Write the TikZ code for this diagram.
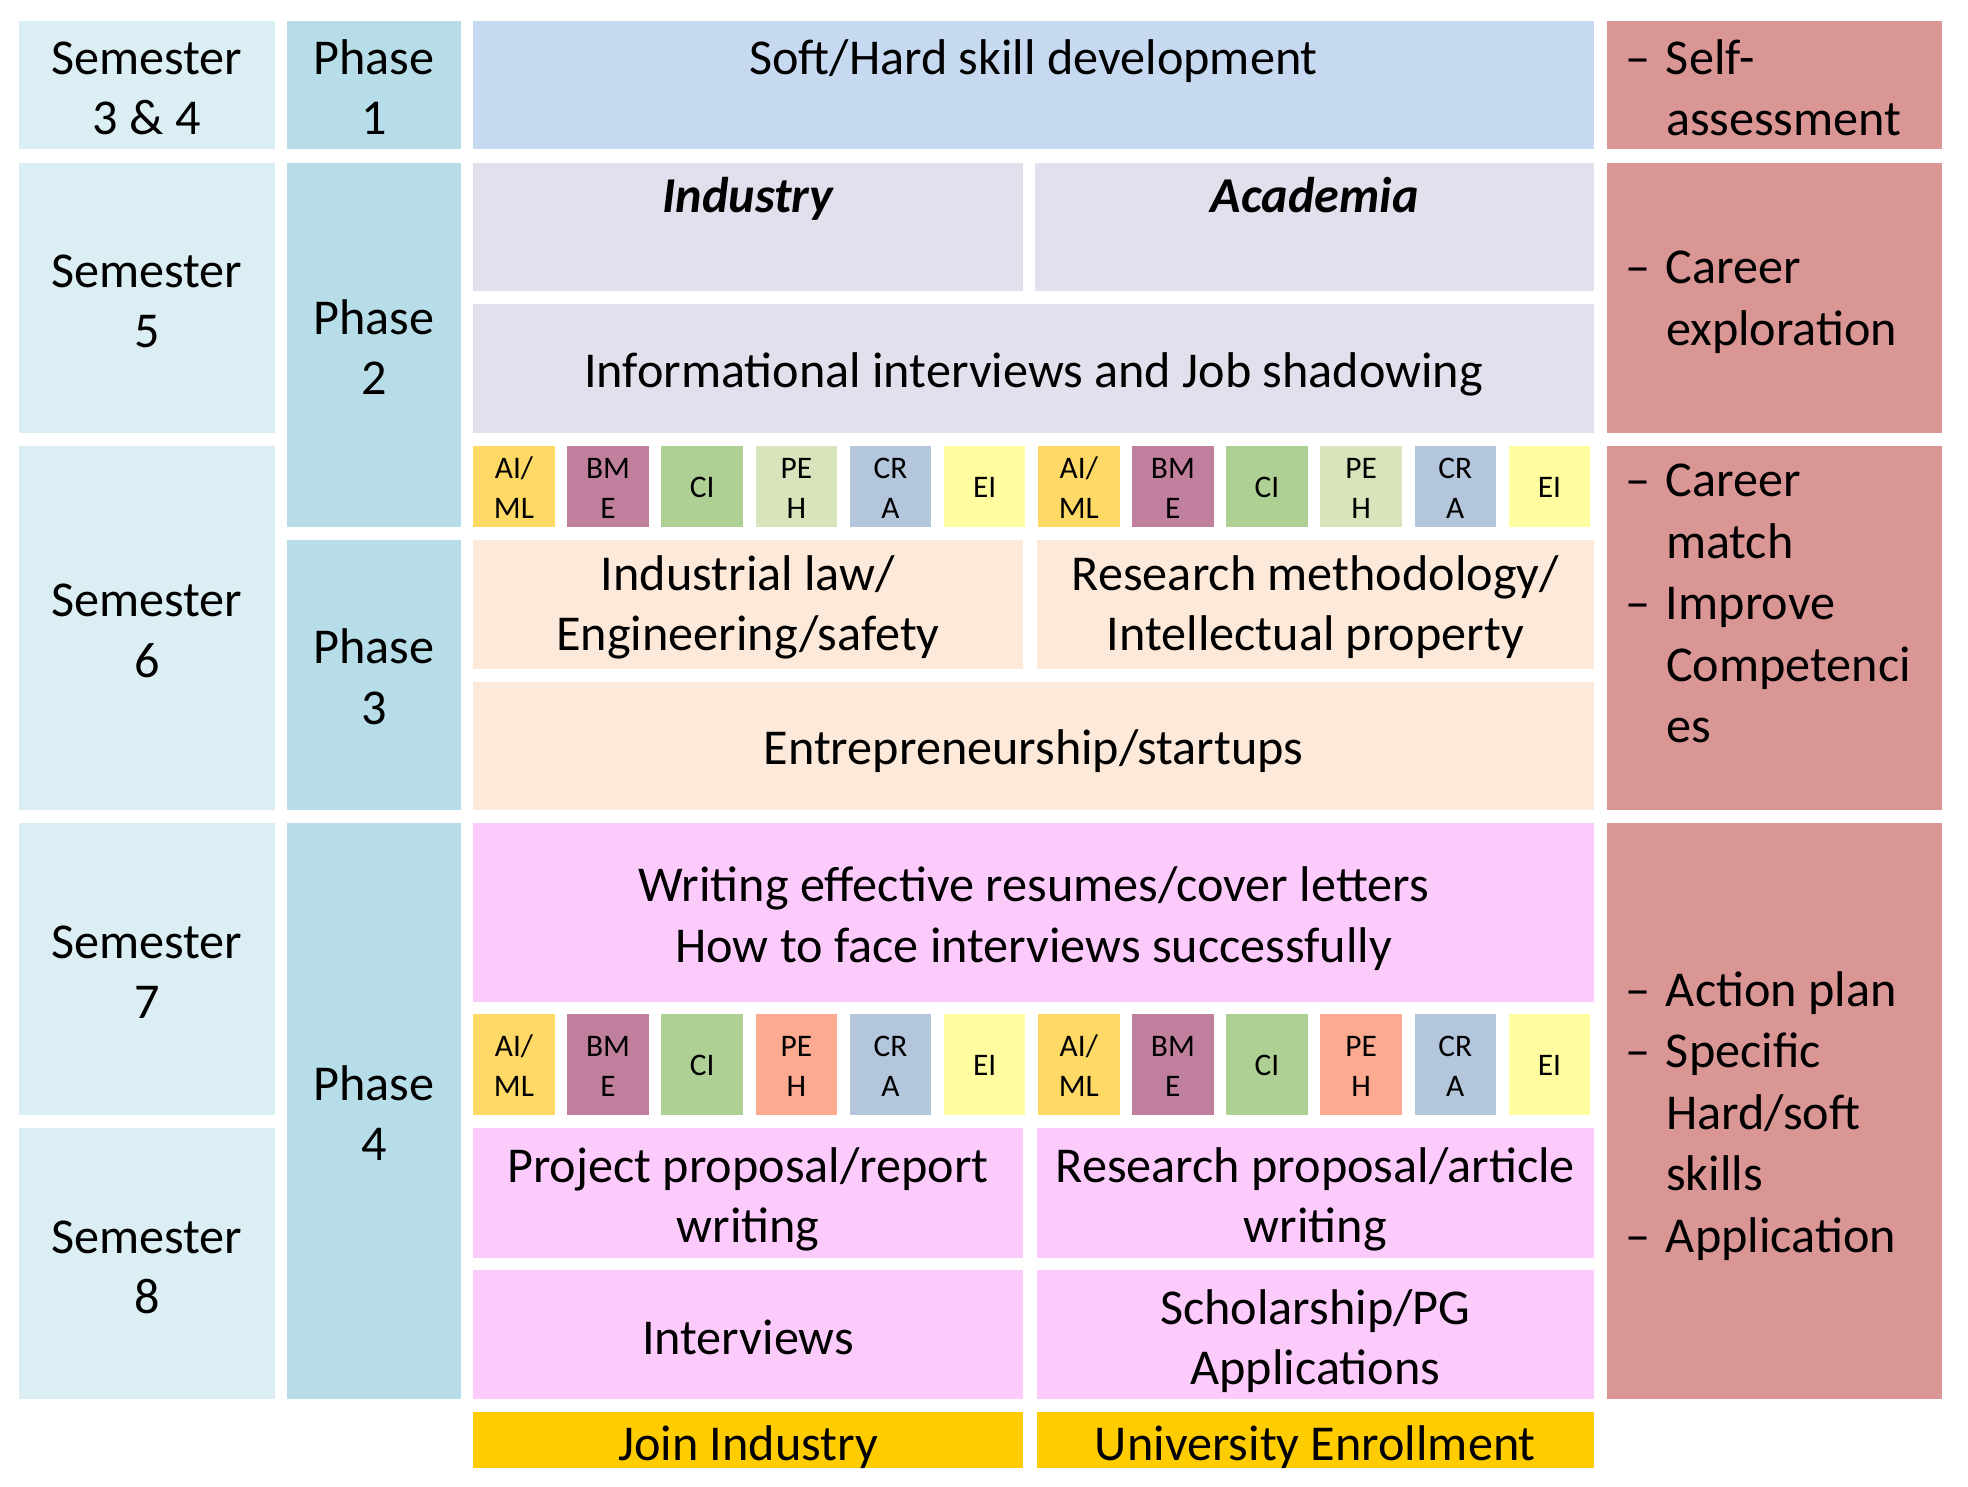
\documentclass[tikz,border=0pt]{standalone}
\usepackage{fontspec}
\setmainfont{Carlito}
\usetikzlibrary{positioning}

\definecolor{semblue}{HTML}{DAEEF3}
\definecolor{phaseblue}{HTML}{B7DEE8}
\definecolor{softblue}{HTML}{C6D9F1}
\definecolor{lavender}{HTML}{E4DFEC}
\definecolor{peach}{HTML}{FDE9D9}
\definecolor{pinkish}{HTML}{FCCBFC}
\definecolor{rose}{HTML}{DA9694}
\definecolor{gold}{HTML}{FFCC00}
\definecolor{aiml}{HTML}{FFD966}
\definecolor{bme}{HTML}{C17F9E}
\definecolor{ci}{HTML}{AFD095}
\definecolor{pehlight}{HTML}{D8E4BC}
\definecolor{pehsalmon}{HTML}{FCAA90}
\definecolor{cra}{HTML}{B4C6DC}
\definecolor{ei}{HTML}{FFFD9F}

\newcommand{\ditem}[1]{\makebox[16pt][l]{–}#1}
\newcommand{\dcont}[1]{\hspace*{16pt}#1}

\tikzset{
    cell/.style = {rectangle, inner sep=0pt, align=center, font=\fontsize{20}{24}\selectfont,
        text height=19pt, text depth=3.5pt},
    twoline/.style = {text height=43pt},
    semester/.style = {cell, twoline, fill=semblue, minimum width=102pt},
    phase/.style = {cell, twoline, fill=phaseblue, minimum width=69pt},
    wide/.style = {cell, minimum width=446.5pt},
    half/.style = {cell, minimum width=219pt},
    halfr/.style = {cell, minimum width=222pt},
    goal/.style = {cell, fill=rose, minimum width=133.5pt},
    goaltext/.style = {inner sep=0pt, align=left, anchor=west, font=\fontsize{20}{24.5}\selectfont},
    basetext/.style = {cell, anchor=base},
    tag/.style = {rectangle, inner sep=0pt, align=center, minimum width=32.5pt, font=\fontsize{12.5}{16}\selectfont,
        text height=10pt, text depth=1.5pt},
    tagtwo/.style = {text height=27.5pt},
    tagA/.style = {tag, minimum height=32.5pt},
    tagB/.style = {tag, minimum height=40pt}}

\begin{document}
\begin{tikzpicture}[x=0.5pt,y=-0.5pt]
    \useasboundingbox (0,0) rectangle (1568,1184);
    % semesters
    \node[semester, minimum height=51pt] (sem34) at (117,68) {Semester\\3 \& 4};
    \node[semester, minimum height=107.5pt] (sem5) at (117,237.5) {Semester\\5};
    \node[semester, minimum height=145pt] (sem6) at (117,500) {Semester\\6};
    \node[semester, minimum height=116pt] (sem7) at (117,772) {Semester\\7};
    \node[semester, minimum height=108pt] (sem8) at (117,1007) {Semester\\8};
    % phases
    \node[phase, minimum height=51pt] (ph1) at (298,68) {Phase\\1};
    \node[phase, minimum height=145pt] (ph2) at (298,275) {Phase\\2};
    \node[phase, minimum height=107.5pt] (ph3) at (298,537.5) {Phase\\3};
    \node[phase, minimum height=229.5pt] (ph4) at (298,885.5) {Phase\\4};
    % activities
    \node[wide, fill=softblue, minimum height=51pt] (soft) at (823.5,68) {};
    \node[basetext] (softtxt) at (823.5,59) {Soft/Hard skill development};
    \node[half, fill=lavender, minimum height=51pt] (indhead) at (596,181) {};
    \node[cell, fill=lavender, minimum width=222.5pt, minimum height=51pt] (acahead) at (1047.5,181) {};
    \node[basetext, font=\fontsize{20}{24}\selectfont\bfseries\itshape] (indtxt) at (596,169) {Industry};
    \node[basetext, font=\fontsize{20}{24}\selectfont\bfseries\itshape] (acatxt) at (1047.5,169) {Academia};
    \node[wide, fill=lavender, minimum height=51.5pt] (info) at (823.5,293.5) {Informational interviews and Job shadowing};
    \path (409.5,387.5) node[tagA, tagtwo, fill=aiml] (aiI) {AI/\\ML}
        ++ (75,0) node[tagA, tagtwo, fill=bme] (bmeI) {BM\\E}
        ++ (75,0) node[tagA, fill=ci] (ciI) {CI}
        ++ (75,0) node[tagA, tagtwo, fill=pehlight] (pehI) {PE\\H}
        ++ (75,0) node[tagA, tagtwo, fill=cra] (craI) {CR\\A}
        ++ (75,0) node[tagA, fill=ei] (eiI) {EI}
        ++ (75,0) node[tagA, tagtwo, fill=aiml] (aiA) {AI/\\ML}
        ++ (75,0) node[tagA, tagtwo, fill=bme] (bmeA) {BM\\E}
        ++ (75,0) node[tagA, fill=ci] (ciA) {CI}
        ++ (75,0) node[tagA, tagtwo, fill=pehlight] (pehA) {PE\\H}
        ++ (75,0) node[tagA, tagtwo, fill=cra] (craA) {CR\\A}
        ++ (75,0) node[tagA, fill=ei] (eiA) {EI};
    \node[half, twoline, text depth=6pt, fill=peach, minimum height=51.5pt] (law) at (596,481.5) {Industrial law/\\Engineering/safety};
    \node[halfr, twoline, text depth=6pt, fill=peach, minimum height=51.5pt] (method) at (1048,481.5) {Research methodology/\\Intellectual property};
    \node[wide, fill=peach, minimum height=51pt] (startup) at (823.5,594) {Entrepreneurship/startups};
    \node[wide, twoline, fill=pinkish, minimum height=71pt] (resume) at (823.5,727) {Writing effective resumes/cover letters\\How to face interviews successfully};
    \path (409.5,848) node[tagB, tagtwo, fill=aiml] (aiII) {AI/\\ML}
        ++ (75,0) node[tagB, tagtwo, fill=bme] (bmeII) {BM\\E}
        ++ (75,0) node[tagB, fill=ci] (ciII) {CI}
        ++ (75,0) node[tagB, tagtwo, fill=pehsalmon] (pehII) {PE\\H}
        ++ (75,0) node[tagB, tagtwo, fill=cra] (craII) {CR\\A}
        ++ (75,0) node[tagB, fill=ei] (eiII) {EI}
        ++ (75,0) node[tagB, tagtwo, fill=aiml] (aiAA) {AI/\\ML}
        ++ (75,0) node[tagB, tagtwo, fill=bme] (bmeAA) {BM\\E}
        ++ (75,0) node[tagB, fill=ci] (ciAA) {CI}
        ++ (75,0) node[tagB, tagtwo, fill=pehsalmon] (pehAA) {PE\\H}
        ++ (75,0) node[tagB, tagtwo, fill=cra] (craAA) {CR\\A}
        ++ (75,0) node[tagB, fill=ei] (eiAA) {EI};
    \node[half, twoline, fill=pinkish, minimum height=51.5pt] (project) at (596,950.5) {Project proposal/report\\writing};
    \node[halfr, twoline, fill=pinkish, minimum height=51.5pt] (article) at (1048,950.5) {Research proposal/article\\writing};
    \node[half, fill=pinkish, minimum height=51.5pt] (interview) at (596,1063.5) {Interviews};
    \node[halfr, twoline, fill=pinkish, minimum height=51.5pt] (scholar) at (1048,1063.5) {Scholarship/PG\\Applications};
    \node[half, fill=gold, minimum height=22.5pt] (join) at (596,1147.5) {};
    \node[halfr, fill=gold, minimum height=22.5pt] (enrol) at (1048,1147.5) {};
    \node[basetext] (jointxt) at (596,1164) {Join Industry};
    \node[basetext] (enroltxt) at (1048,1164) {University Enrollment};
    % goals
    \node[goal, minimum height=51pt] (g1) at (1413.5,68) {};
    \node[goal, minimum height=107.5pt] (g2) at (1413.5,237.5) {};
    \node[goal, minimum height=145pt] (g3) at (1413.5,500) {};
    \node[goal, minimum height=229.5pt] (g4) at (1413.5,885.5) {};
    \node[goaltext] (g1txt) at (1295,70) {\ditem{Self-}\\\dcont{assessment}};
    \node[goaltext] (g2txt) at (1295,241) {\ditem{Career}\\\dcont{exploration}};
    \node[goaltext] (g3txt) at (1295,481) {\ditem{Career}\\\dcont{match}\\\ditem{Improve}\\\dcont{Competenci}\\\dcont{es}};
    \node[goaltext] (g4txt) at (1295,889) {\ditem{Action plan}\\\ditem{Specific}\\\dcont{Hard/soft}\\\dcont{skills}\\\ditem{Application}};
\end{tikzpicture}
\end{document}
